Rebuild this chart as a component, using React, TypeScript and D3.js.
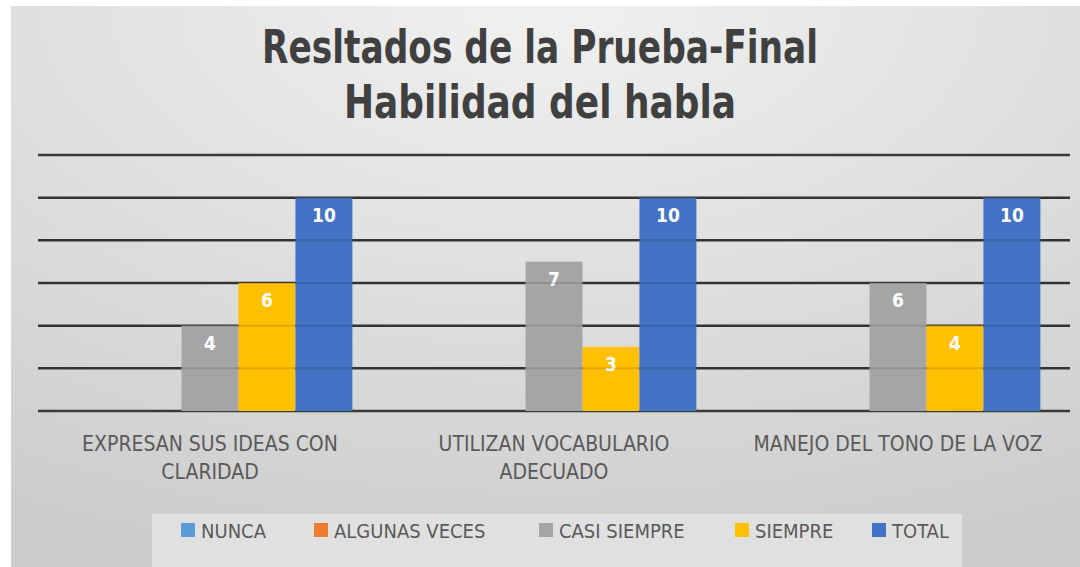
import React, { useRef, useEffect } from 'react';
import * as d3 from 'd3';

// chart data
const categories = [
  ['EXPRESAN SUS IDEAS CON', 'CLARIDAD'],
  ['UTILIZAN VOCABULARIO', 'ADECUADO'],
  ['MANEJO DEL TONO DE LA VOZ'],
];
const seriesNames = ['NUNCA', 'ALGUNAS VECES', 'CASI SIEMPRE', 'SIEMPRE', 'TOTAL'];
const seriesColors = ['#5B9BD5', '#ED7D31', '#A5A5A5', '#FFC000', '#4472C4'];
const nunca = [0, 0, 0];
const algunasVeces = [0, 0, 0];
const casiSiempre = [4, 7, 6];
const siempre = [6, 3, 4];
const total = [10, 10, 10];
const yTicks = [0, 2, 4, 6, 8, 10, 12];

const W = 1080;
const H = 567;

const App = () => {
  const svgRef = useRef<SVGSVGElement | null>(null);

  useEffect(() => {
    const svg = d3.select(svgRef.current);
    svg.selectAll('*').remove();

    const values = [nunca, algunasVeces, casiSiempre, siempre, total];
    const narrow = "'DejaVu Sans Condensed', sans-serif";

    const defs = svg.append('defs');
    const bg = defs.append('radialGradient')
      .attr('id', 'bg')
      .attr('cx', '50%').attr('cy', '0%').attr('r', '100%');
    bg.append('stop').attr('offset', '0%').attr('stop-color', '#f1f1f1');
    bg.append('stop').attr('offset', '100%').attr('stop-color', '#cdcdcd');

    // chart area background
    svg.append('rect')
      .attr('x', 11).attr('y', 6)
      .attr('width', W - 11).attr('height', H - 6)
      .attr('fill', 'url(#bg)');

    // title
    const title = svg.append('g')
      .attr('font-family', narrow)
      .attr('font-weight', 'bold')
      .attr('fill', '#404040')
      .attr('text-anchor', 'middle');
    title.append('text')
      .attr('x', 540).attr('y', 63)
      .attr('font-size', 46)
      .attr('textLength', 556)
      .attr('lengthAdjust', 'spacingAndGlyphs')
      .text('Resltados de la Prueba-Final');
    title.append('text')
      .attr('x', 540).attr('y', 118)
      .attr('font-size', 46)
      .attr('textLength', 392)
      .attr('lengthAdjust', 'spacingAndGlyphs')
      .text('Habilidad del habla');

    // scales
    const x0 = d3.scaleBand<number>()
      .domain(categories.map((_, i) => i))
      .range([38, 1070])
      .padding(0);
    const x1 = d3.scaleBand<number>()
      .domain(seriesNames.map((_, i) => i))
      .range([0, x0.bandwidth()])
      .paddingInner(0)
      .paddingOuter(0.52);
    const y = d3.scaleLinear().domain([0, 12]).range([411, 155]);

    // gridlines
    svg.append('g')
      .selectAll('line')
      .data(yTicks)
      .enter()
      .append('line')
      .attr('x1', 38).attr('x2', 1070)
      .attr('y1', d => y(d)).attr('y2', d => y(d))
      .attr('stroke', '#3a3a3a')
      .attr('stroke-width', 2.5);

    // bars
    const groups = svg.append('g')
      .selectAll('g')
      .data(categories)
      .enter()
      .append('g')
      .attr('transform', (_, i) => `translate(${x0(i)},0)`);

    seriesNames.forEach((name, s) => {
      groups.append('rect')
        .attr('x', x1(s)!)
        .attr('y', (_, i) => y(values[s][i]))
        .attr('width', x1.bandwidth())
        .attr('height', (_, i) => y(0) - y(values[s][i]))
        .attr('fill', seriesColors[s]);
    });

    // faint gridlines showing through bars
    svg.append('g')
      .selectAll('line')
      .data(yTicks.slice(1, -1))
      .enter()
      .append('line')
      .attr('x1', 38).attr('x2', 1070)
      .attr('y1', d => y(d)).attr('y2', d => y(d))
      .attr('stroke', '#000')
      .attr('stroke-opacity', 0.12)
      .attr('stroke-width', 2);

    // data labels
    seriesNames.forEach((name, s) => {
      groups.filter((_, i) => values[s][i] > 0)
        .append('text')
        .attr('x', x1(s)! + x1.bandwidth() / 2)
        .attr('y', (_, i) => y(values[s][i]) + 24)
        .attr('text-anchor', 'middle')
        .attr('font-family', narrow)
        .attr('font-weight', 'bold')
        .attr('font-size', 19)
        .attr('fill', '#ffffff')
        .text((_, i) => values[s][i]);
    });

    // category labels
    const catG = svg.append('g')
      .attr('font-family', narrow)
      .attr('font-size', 21)
      .attr('fill', '#595959')
      .attr('text-anchor', 'middle');
    categories.forEach((lines, i) => {
      lines.forEach((line, j) => {
        catG.append('text')
          .attr('x', x0(i)! + x0.bandwidth() / 2)
          .attr('y', 451 + j * 28)
          .text(line);
      });
    });

    // legend
    svg.append('rect')
      .attr('x', 152).attr('y', 514)
      .attr('width', 810).attr('height', H - 514)
      .attr('fill', '#e0e0e0');
    const legendX = [181, 314, 539, 735, 872];
    const legend = svg.append('g')
      .attr('font-family', narrow)
      .attr('font-size', 20)
      .attr('fill', '#595959');
    seriesNames.forEach((name, s) => {
      legend.append('rect')
        .attr('x', legendX[s]).attr('y', 523)
        .attr('width', 14).attr('height', 14)
        .attr('fill', seriesColors[s]);
      legend.append('text')
        .attr('x', legendX[s] + 20).attr('y', 538)
        .text(name);
    });
  }, []);

  return (
    <svg
      ref={svgRef}
      width={W}
      height={H}
      style={{ position: 'fixed', left: 0, top: 0, background: '#fff' }}
    />
  );
};

export default App;
